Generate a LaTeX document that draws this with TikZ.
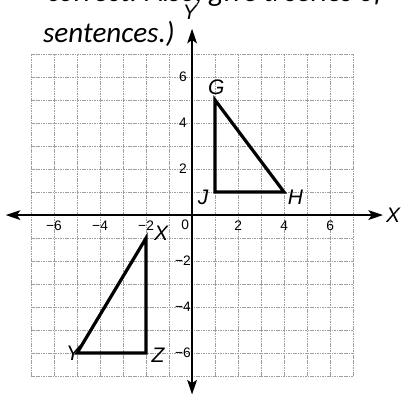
\documentclass[tikz,border=0pt]{standalone}
\usepackage{fontspec}
\setmainfont{Liberation Sans}
\newfontfamily\notefont{Carlito}
\usetikzlibrary{arrows.meta}

\begin{document}
\begin{tikzpicture}[>={Stealth[length=18pt,width=12pt,inset=4pt]},
  gridline/.style={gray!75, line width=0.8pt, dash pattern=on 2pt off 1pt},
  axis/.style={line width=2.4pt, <->},
  tri/.style={line width=4pt, line join=miter},
  vlabel/.style={font=\fontsize{26}{26}\selectfont\itshape, inner sep=0pt},
  ticklabel/.style={font=\fontsize{17}{17}\selectfont, inner sep=0pt},
  note/.style={font=\notefont\fontsize{36}{44}\selectfont\itshape, inner sep=0pt, anchor=base west}]
  \useasboundingbox (-8.35,-7.91) rectangle (9.17,9.35);
  % grid
  \foreach \k in {-7,...,7} {
    \draw[gridline] (\k,-7) -- (\k,7);
    \draw[gridline] (-7,\k) -- (7,\k);
  }
  % axes
  \coordinate (xl) at (-8.1,0);
  \coordinate (xr) at (8.3,0);
  \coordinate (yb) at (0,-7.8);
  \coordinate (yt) at (0,8.1);
  \draw[axis] (xl) -- (xr);
  \draw[axis] (yb) -- (yt);
  \node[vlabel] (xlab) at (8.74,0) {X};
  \node[vlabel] (ylab) at (-0.09,8.8) {Y};
  % ticks
  \foreach \v/\t in {-6/−6,-4/−4,-2/−2,2/2,4/4,6/6} {
    \node[ticklabel] at (\v,-0.45) {\t};
    \node[ticklabel] at (-0.4,\v) {\t};
  }
  \node[ticklabel] (o) at (-0.3,-0.4) {0};
  % triangles
  \coordinate (G) at (1,5);
  \coordinate (H) at (4,1);
  \coordinate (J) at (1,1);
  \coordinate (X) at (-2,-1);
  \coordinate (Y) at (-5,-6);
  \coordinate (Z) at (-2,-6);
  \draw[tri] (G) -- (H) -- (J) -- cycle;
  \draw[tri] (X) -- (Y) -- (Z) -- cycle;
  \node[vlabel] (g) at (1.05,5.57) {G};
  \node[vlabel] (h) at (4.5,0.78) {H};
  \node[vlabel] (j) at (0.48,0.78) {J};
  \node[vlabel] (x) at (-1.35,-0.78) {X};
  \node[vlabel] (y) at (-5.17,-6.0) {Y};
  \node[vlabel] (z) at (-1.48,-6.1) {Z};
  % text of the page
  \node[note] (t1) at (-6.3,9.3) {correct. Also, give a series of};
  \node[note] (t2) at (-6.48,7.52) {sentences.)};
\end{tikzpicture}
\end{document}
